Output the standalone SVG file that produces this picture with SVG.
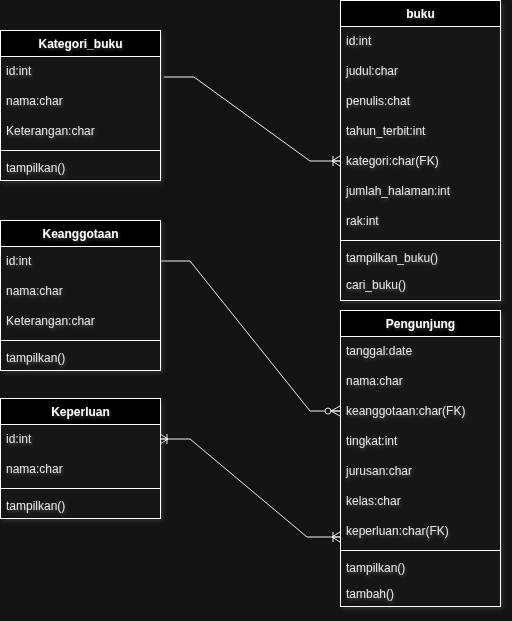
<svg xmlns="http://www.w3.org/2000/svg" width="512" height="621" viewBox="0 0 512 621">
<style>
.bg{fill:#131314}
.body{fill:#131314;stroke:#ffffff;stroke-width:1}
.head{fill:#000000;stroke:#ffffff;stroke-width:1}
.div{stroke:#ffffff;stroke-width:1}
.title{font-family:"Liberation Sans",Arial,sans-serif;font-size:12px;font-weight:bold;fill:#ffffff;text-anchor:middle}
.attr{font-family:"Liberation Sans",Arial,sans-serif;font-size:12px;fill:#e6e6e6}
.edge{fill:none;stroke:#f0f0f0;stroke-width:1}
.mk{fill:none;stroke:#f0f0f0;stroke-width:1}
</style>
<defs>
<filter id="boxsh" x="-10%" y="-10%" width="120%" height="120%">
<feGaussianBlur in="SourceAlpha" stdDeviation="2" result="b"/>
<feFlood flood-color="#6a6a6a" flood-opacity="0.35"/>
<feComposite operator="in" in2="b"/>
<feOffset dx="2" dy="2" result="s"/>
<feMerge><feMergeNode in="s"/><feMergeNode in="SourceGraphic"/></feMerge>
</filter>
<filter id="txtsh" x="-10%" y="-30%" width="120%" height="160%">
<feGaussianBlur in="SourceAlpha" stdDeviation="1.5" result="b"/>
<feFlood flood-color="#9a9a9a" flood-opacity="0.35"/>
<feComposite operator="in" in2="b"/>
<feOffset dx="1" dy="2" result="s"/>
<feMerge><feMergeNode in="s"/><feMergeNode in="SourceGraphic"/></feMerge>
</filter>
<marker id="oneMany" markerUnits="userSpaceOnUse" viewBox="-11 -7 12 14" refX="0" refY="0" markerWidth="12" markerHeight="14" orient="auto-start-reverse">
<path class="mk" d="M0,-5 L-8,0 L0,5 M-8,0 H0 M-7,-5 V5"/>
</marker>
<marker id="zeroMany" markerUnits="userSpaceOnUse" viewBox="-17 -7 18 14" refX="0" refY="0" markerWidth="18" markerHeight="14" orient="auto">
<path class="mk" d="M0,-5 L-9,0 L0,5 M-9,0 H0"/>
<circle cx="-12" cy="0" r="3" fill="#131314" stroke="#f0f0f0" stroke-width="1"/>
</marker>
</defs>
<rect class="bg" x="0" y="0" width="512" height="621"/>

<g id="connectors">
<path class="edge" d="M164 77 H194 L310 161 H340" marker-end="url(#oneMany)"/>
<path class="edge" d="M160 261 H190 L310 411 H340" marker-end="url(#zeroMany)"/>
<path class="edge" d="M160 439 H190 L307 537 H340" marker-start="url(#oneMany)" marker-end="url(#oneMany)"/>
</g>

<g id="kategori_buku">
<g filter="url(#boxsh)">
<rect class="body" x="0.5" y="30.5" width="160" height="150"/>
<rect class="head" x="0.5" y="30.5" width="160" height="26"/>
<line class="div" x1="0.5" y1="150.5" x2="160.5" y2="150.5"/>
</g>
<g filter="url(#txtsh)">
<text class="title" x="80.5" y="48">Kategori_buku</text>
<text class="attr" x="6" y="75">id:int</text>
<text class="attr" x="6" y="105">nama:char</text>
<text class="attr" x="6" y="135">Keterangan:char</text>
<text class="attr" x="6" y="172">tampilkan()</text>
</g>
</g>

<g id="keanggotaan">
<g filter="url(#boxsh)">
<rect class="body" x="0.5" y="220.5" width="160" height="150"/>
<rect class="head" x="0.5" y="220.5" width="160" height="26"/>
<line class="div" x1="0.5" y1="340.5" x2="160.5" y2="340.5"/>
</g>
<g filter="url(#txtsh)">
<text class="title" x="80.5" y="238">Keanggotaan</text>
<text class="attr" x="6" y="265">id:int</text>
<text class="attr" x="6" y="295">nama:char</text>
<text class="attr" x="6" y="325">Keterangan:char</text>
<text class="attr" x="6" y="362">tampilkan()</text>
</g>
</g>

<g id="keperluan">
<g filter="url(#boxsh)">
<rect class="body" x="0.5" y="398.5" width="160" height="120"/>
<rect class="head" x="0.5" y="398.5" width="160" height="26"/>
<line class="div" x1="0.5" y1="488.5" x2="160.5" y2="488.5"/>
</g>
<g filter="url(#txtsh)">
<text class="title" x="80.5" y="416">Keperluan</text>
<text class="attr" x="6" y="443">id:int</text>
<text class="attr" x="6" y="473">nama:char</text>
<text class="attr" x="6" y="510">tampilkan()</text>
</g>
</g>

<g id="buku">
<g filter="url(#boxsh)">
<rect class="body" x="340.5" y="0.5" width="160" height="300"/>
<rect class="head" x="340.5" y="0.5" width="160" height="26"/>
<line class="div" x1="340.5" y1="240.5" x2="500.5" y2="240.5"/>
</g>
<g filter="url(#txtsh)">
<text class="title" x="420.5" y="18">buku</text>
<text class="attr" x="346" y="45">id:int</text>
<text class="attr" x="346" y="75">judul:char</text>
<text class="attr" x="346" y="105">penulis:chat</text>
<text class="attr" x="346" y="135">tahun_terbit:int</text>
<text class="attr" x="346" y="165">kategori:char(FK)</text>
<text class="attr" x="346" y="195">jumlah_halaman:int</text>
<text class="attr" x="346" y="225">rak:int</text>
<text class="attr" x="346" y="262">tampilkan_buku()</text>
<text class="attr" x="346" y="289">cari_buku()</text>
</g>
</g>

<g id="pengunjung">
<g filter="url(#boxsh)">
<rect class="body" x="340.5" y="310.5" width="160" height="296"/>
<rect class="head" x="340.5" y="310.5" width="160" height="26"/>
<line class="div" x1="340.5" y1="550.5" x2="500.5" y2="550.5"/>
</g>
<g filter="url(#txtsh)">
<text class="title" x="420.5" y="328">Pengunjung</text>
<text class="attr" x="346" y="355">tanggal:date</text>
<text class="attr" x="346" y="385">nama:char</text>
<text class="attr" x="346" y="415">keanggotaan:char(FK)</text>
<text class="attr" x="346" y="445">tingkat:int</text>
<text class="attr" x="346" y="475">jurusan:char</text>
<text class="attr" x="346" y="505">kelas:char</text>
<text class="attr" x="346" y="535">keperluan:char(FK)</text>
<text class="attr" x="346" y="572">tampilkan()</text>
<text class="attr" x="346" y="598">tambah()</text>
</g>
</g>
</svg>
